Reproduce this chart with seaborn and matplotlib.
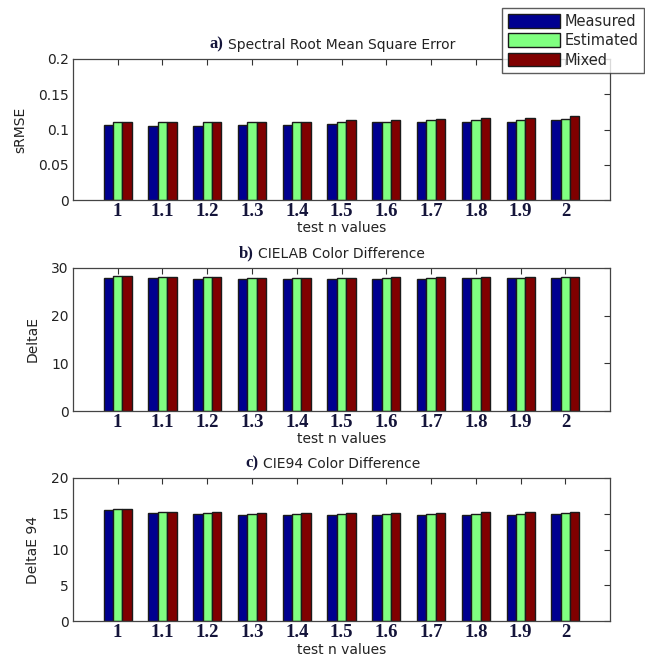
import seaborn as sns
import numpy as np
import pandas as pd
import matplotlib.pyplot as plt
from matplotlib.patches import Patch

n_values = ['1', '1.1', '1.2', '1.3', '1.4', '1.5', '1.6', '1.7', '1.8', '1.9', '2']
series = ['Measured', 'Estimated', 'Mixed']

srmse_measured = [0.106, 0.105, 0.105, 0.106, 0.106, 0.108, 0.110, 0.110, 0.111, 0.111, 0.113]
srmse_estimated = [0.110, 0.110, 0.110, 0.110, 0.110, 0.111, 0.111, 0.113, 0.114, 0.114, 0.115]
srmse_mixed = [0.110, 0.110, 0.110, 0.111, 0.111, 0.113, 0.114, 0.115, 0.117, 0.117, 0.119]

de_measured = [27.8, 27.85, 27.6, 27.6, 27.6, 27.6, 27.6, 27.6, 27.8, 27.8, 27.8]
de_estimated = [28.3, 28.05, 28.05, 27.8, 27.8, 27.8, 27.8, 27.8, 27.8, 27.8, 28.05]
de_mixed = [28.3, 28.05, 28.05, 27.8, 27.8, 27.8, 28.05, 28.05, 28.05, 28.05, 28.05]

de94_measured = [15.46, 15.14, 15.0, 14.86, 14.86, 14.86, 14.86, 14.86, 14.86, 14.86, 15.0]
de94_estimated = [15.6, 15.28, 15.14, 15.0, 15.0, 15.0, 15.0, 15.0, 15.0, 15.0, 15.14]
de94_mixed = [15.6, 15.28, 15.28, 15.14, 15.14, 15.14, 15.14, 15.14, 15.28, 15.28, 15.28]

colors = ['#000090', '#80ff80', '#800000']


def to_long(measured, estimated, mixed):
    frames = []
    for name, vals in zip(series, [measured, estimated, mixed]):
        frames.append(pd.DataFrame({'n': n_values, 'series': name, 'value': vals}))
    return pd.concat(frames, ignore_index=True)


panels = [
    (to_long(srmse_measured, srmse_estimated, srmse_mixed), 'a)', 'Spectral Root Mean Square Error',
     'sRMSE', (0, 0.2), [0, 0.05, 0.1, 0.15, 0.2], ['0', '0.05', '0.1', '0.15', '0.2']),
    (to_long(de_measured, de_estimated, de_mixed), 'b)', 'CIELAB Color Difference',
     'DeltaE', (0, 30), [0, 10, 20, 30], ['0', '10', '20', '30']),
    (to_long(de94_measured, de94_estimated, de94_mixed), 'c)', 'CIE94 Color Difference',
     'DeltaE 94', (0, 20), [0, 5, 10, 15, 20], ['0', '5', '10', '15', '20']),
]

sns.set_style('white')
plt.rcParams['font.family'] = ['DejaVu Sans']

fig = plt.figure(figsize=(6.45, 6.61), dpi=100)
boxes = [[0.113, 0.697, 0.833, 0.214],
         [0.113, 0.378, 0.833, 0.217],
         [0.113, 0.060, 0.833, 0.217]]

for box, (df, tag, title, ylab, ylim, yt, ytl) in zip(boxes, panels):
    ax = fig.add_axes(box)
    sns.barplot(data=df, x='n', y='value', hue='series', palette=colors, width=0.63,
                edgecolor='#1a1a1a', linewidth=1.0, saturation=1, errorbar=None,
                legend=False, ax=ax)
    ax.set_xlim(-1, 11)
    ax.set_ylim(*ylim)
    ax.set_yticks(yt)
    ax.set_yticklabels(ytl, fontsize=10, color='#222222')
    ax.set_xticks(range(len(n_values)))
    ax.set_xticklabels(n_values, fontsize=13.5, fontweight='bold',
                       family='Liberation Serif', color='#14143a')
    ax.tick_params(direction='in', top=True, right=True, length=4, width=0.8,
                   color='#333333', pad=3)
    ax.tick_params(axis='x', pad=2)
    ax.set_ylabel(ylab, fontsize=10, color='#222222', labelpad=8)
    ax.set_xlabel('test n values', fontsize=10, color='#222222', labelpad=1)
    for sp in ax.spines.values():
        sp.set_color('#444444')
        sp.set_linewidth(0.9)
    t = ax.set_title(title, fontsize=10, color='#222222', pad=7)
    ax.annotate(tag, xy=(0, 0), xycoords=t, xytext=(-3, 0), textcoords='offset points',
                ha='right', va='bottom', fontsize=12, fontweight='bold',
                family='Liberation Serif', color='#14143a')

handles = [Patch(facecolor=c, edgecolor='#1a1a1a', linewidth=1.0) for c in colors]
fig.legend(handles, series, loc='upper left', bbox_to_anchor=(0.778, 0.988),
           fontsize=10.5, frameon=True, fancybox=False, edgecolor='#333333',
           handlelength=3.6, handleheight=1.05, handletextpad=0.3, labelspacing=0.3,
           borderpad=0.4, borderaxespad=0)

fig.savefig('out.png', dpi=100)
